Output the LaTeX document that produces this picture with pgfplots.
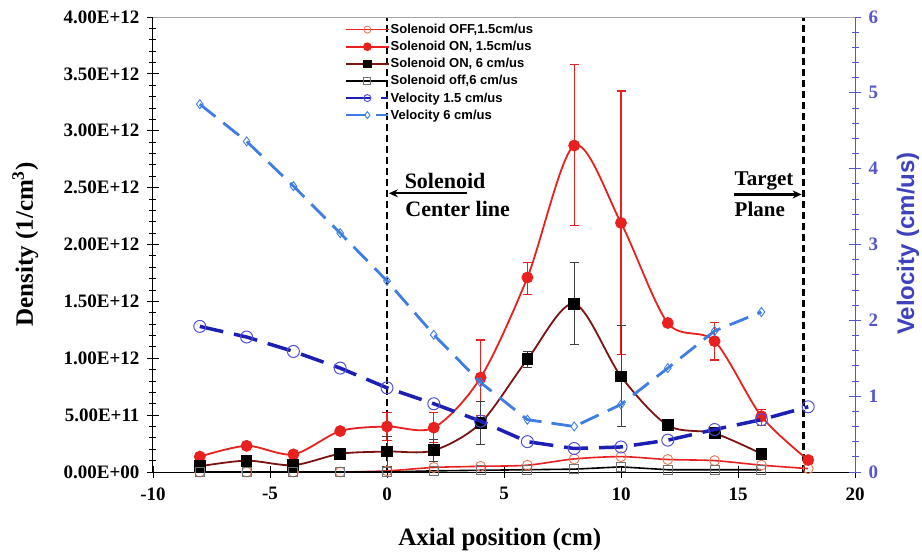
\documentclass[border=0pt]{standalone}
\usepackage{pgfplots}
\usepackage{pgfplotstable}
\pgfplotsset{compat=1.18}
\usepackage{fontspec}
\setmainfont{Liberation Serif}
\setsansfont{Liberation Sans}
\usetikzlibrary{arrows.meta}
\definecolor{cred}{RGB}{232,32,30}
\definecolor{corange}{RGB}{236,120,90}
\definecolor{cmaroon}{RGB}{125,18,18}
\definecolor{cdblue}{RGB}{28,32,178}
\definecolor{ccblue}{RGB}{80,80,215}
\definecolor{clblue}{RGB}{62,125,228}
\definecolor{caxblue}{RGB}{85,85,205}

\pgfplotstableread{
x y ep em
-8 0.135e12 0 0
-6 0.23e12 0 0
-4 0.155e12 0 0
-2 0.36e12 0 0
0 0.40e12 0.12e12 0.12e12
2 0.39e12 0.13e12 0.13e12
4 0.83e12 0.33e12 0.33e12
6 1.71e12 0.13e12 0.15e12
8 2.87e12 0.71e12 0.70e12
10 2.19e12 1.16e12 1.16e12
12 1.31e12 0 0
14 1.15e12 0.165e12 0.165e12
16 0.49e12 0.06e12 0.08e12
18 0.105e12 0.03e12 0.03e12
}\onslow

\pgfplotstableread{
x y ep em
-8 0.05e12 0 0
-6 0.10e12 0 0
-4 0.06e12 0 0
-2 0.16e12 0 0
0 0.18e12 0.13e12 0.13e12
2 0.19e12 0.10e12 0.10e12
4 0.43e12 0.19e12 0.19e12
6 0.99e12 0.07e12 0.07e12
8 1.48e12 0.36e12 0.36e12
10 0.84e12 0.45e12 0.44e12
12 0.41e12 0 0
14 0.34e12 0 0
16 0.16e12 0 0
}\onfast

\pgfplotsset{
  vone/.style={cdblue, line width=3.5bp, dash pattern=on 24bp off 11bp, mark=o, mark size=6bp, mark options={solid, draw=ccblue, line width=1bp, fill=none}},
  vsix/.style={clblue, line width=2.8bp, dash pattern=on 20bp off 10bp, mark=diamond, mark size=4.5bp, mark options={solid, draw=clblue, line width=0.9bp, fill=none}},
  tickfont/.style={font=\bfseries\fontsize{19bp}{21bp}\selectfont},
}

\begin{document}
\begin{tikzpicture}
\useasboundingbox (-153bp,-85bp) rectangle (769bp,472bp);
\begin{axis}[
  at={(0,0)}, anchor=south west, scale only axis,
  width=702bp, height=455bp,
  xmin=-10, xmax=20, ymin=0, ymax=4e12,
  axis x line*=bottom, axis y line*=left,
  xtick={-10,-5,...,20},
  ytick={0,0.5e12,1e12,1.5e12,2e12,2.5e12,3e12,3.5e12,4e12},
  yticklabels={0.00E+00,5.00E+11,1.00E+12,1.50E+12,2.00E+12,2.50E+12,3.00E+12,3.50E+12,4.00E+12},
  scaled y ticks=false,
  minor y tick num=4,
  tick align=center,
  major tick length=12bp, minor tick length=7bp,
  every tick/.style={black, line width=0.8bp},
  axis line style={black, line width=1bp},
  /pgf/number format/assume math mode=true,
  xticklabel style={tickfont, yshift=-6bp},
  yticklabel style={tickfont, xshift=-4bp},
  xlabel={Axial position (cm)},
  ylabel={Density (1/cm$^{\mathbf{3}}$)},
  xlabel style={font=\bfseries\fontsize{25bp}{27bp}\selectfont, at={(axis description cs:0.494,-0.149)}, anchor=center},
  ylabel style={font=\bfseries\fontsize{25bp}{27bp}\selectfont, at={(axis description cs:-0.182,0.5)}, anchor=center},
  legend cell align=left,
  legend style={at={(axis description cs:0.274,0.988)}, anchor=north west, draw=none, fill=none, inner sep=0pt,
    row sep=3.2bp, font=\sffamily\bfseries\fontsize{13bp}{14bp}\selectfont, nodes={inner sep=1.5bp}},
  legend image code/.code={\draw[mark repeat=2,mark phase=2,#1] plot coordinates {(0bp,0bp) (21bp,0bp) (42bp,0bp)};},
  legend image post style={mark size=3.5bp, line width=1.6bp},
]
% reference lines
\addplot[forget plot, black, line width=2.8bp, dash pattern=on 7bp off 4bp] coordinates {(0,0) (0,4e12)};
\addplot[forget plot, black, line width=2.8bp, dash pattern=on 7bp off 4bp] coordinates {(17.8,0) (17.8,4e12)};

% Solenoid OFF 1.5
\addplot[cred, line width=1.6bp, smooth, mark=o, mark size=5bp, mark options={draw=corange, line width=0.9bp, fill=none}]
  coordinates {(-8,0) (-6,0) (-4,0) (-2,0) (0,0.01e12) (2,0.04e12) (4,0.05e12) (6,0.06e12) (8,0.115e12) (10,0.135e12) (12,0.11e12) (14,0.10e12) (16,0.06e12) (18,0.03e12)};
\addlegendentry{Solenoid OFF,1.5cm/us}

% Solenoid ON 1.5
\addplot[cred, line width=1.8bp, smooth, mark=*, mark size=5bp, mark options={fill=cred, draw=cred},
  error bars/.cd, y dir=both, y explicit, error bar style={cred, line width=1.2bp}, error mark options={rotate=90, mark size=4.5bp, cred, line width=1.2bp}]
  table[x=x, y=y, y error plus=ep, y error minus=em] {\onslow};
\addlegendentry{Solenoid ON, 1.5cm/us}

% Solenoid ON 6
\addplot[cmaroon, line width=1.8bp, smooth, mark=square*, mark size=5bp, mark options={fill=black, draw=black},
  error bars/.cd, y dir=both, y explicit, error bar style={black!75, line width=1bp}, error mark options={rotate=90, mark size=4.5bp, black!75, line width=1bp}]
  table[x=x, y=y, y error plus=ep, y error minus=em] {\onfast};
\addlegendentry{Solenoid ON, 6 cm/us}

% Solenoid off 6
\addplot[black, line width=1.6bp, mark=square, mark size=4.5bp, mark options={draw=black!55, line width=0.9bp, fill=none}]
  coordinates {(-8,0) (-6,0) (-4,0) (-2,0) (0,0) (2,0.01e12) (4,0.015e12) (6,0.02e12) (8,0.025e12) (10,0.045e12) (12,0.02e12) (14,0.02e12) (16,0.02e12)};
\addlegendentry{Solenoid off,6 cm/us}

\addlegendimage{vone, line width=3bp}
\addlegendentry{Velocity 1.5 cm/us}
\addlegendimage{vsix, line width=2.5bp}
\addlegendentry{Velocity 6 cm/us}

% annotations
\node[anchor=west, font=\bfseries\fontsize{22bp}{24bp}\selectfont, inner sep=0pt] at (axis cs:0.75,2.56e12) {Solenoid};
\node[anchor=west, font=\bfseries\fontsize{22bp}{24bp}\selectfont, inner sep=0pt] at (axis cs:0.78,2.31e12) {Center line};
\draw[line width=2.2bp, -{Stealth[length=9bp, width=8bp]}] (axis cs:3.42,2.45e12) -- (axis cs:0.08,2.45e12);
\node[anchor=west, font=\bfseries\fontsize{21bp}{23bp}\selectfont, inner sep=0pt] at (axis cs:14.85,2.56e12) {Target};
\node[anchor=west, font=\bfseries\fontsize{21bp}{23bp}\selectfont, inner sep=0pt] at (axis cs:14.85,2.31e12) {Plane};
\draw[line width=2.2bp, -{Stealth[length=9bp, width=8bp]}] (axis cs:14.85,2.44e12) -- (axis cs:17.72,2.44e12);
\end{axis}

\begin{axis}[
  at={(0,0)}, anchor=south west, scale only axis,
  width=702bp, height=455bp,
  xmin=-10, xmax=20, ymin=0, ymax=6,
  axis y line*=right, axis x line=none,
  ytick={0,1,...,6}, minor y tick num=4,
  tick align=center,
  major tick length=12bp, minor tick length=7bp,
  every tick/.style={caxblue, line width=0.8bp},
  y axis line style={caxblue, line width=1bp},
  /pgf/number format/assume math mode=true,
  yticklabel style={tickfont, text=caxblue, xshift=4bp},
  ylabel={Velocity (cm/us)},
  ylabel style={font=\sffamily\bfseries\fontsize{24bp}{26bp}\selectfont, text=cdblue!85, at={(axis description cs:1.0755,0.502)}, anchor=center},
]
\addplot[vone] coordinates {(-8,1.92) (-6,1.78) (-4,1.59) (-2,1.37) (0,1.11) (2,0.90) (4,0.67) (6,0.40) (8,0.31) (10,0.33) (12,0.42) (14,0.56) (16,0.69) (18,0.86)};
\addplot[vsix] coordinates {(-8,4.85) (-6,4.36) (-4,3.77) (-2,3.15) (0,2.52) (2,1.81) (4,1.18) (6,0.69) (8,0.60) (10,0.89) (12,1.37) (14,1.86) (16,2.11)};
\end{axis}
\draw[gray!70, line width=0.8bp] (0,455bp) -- (702bp,455bp);
\end{tikzpicture}
\end{document}
